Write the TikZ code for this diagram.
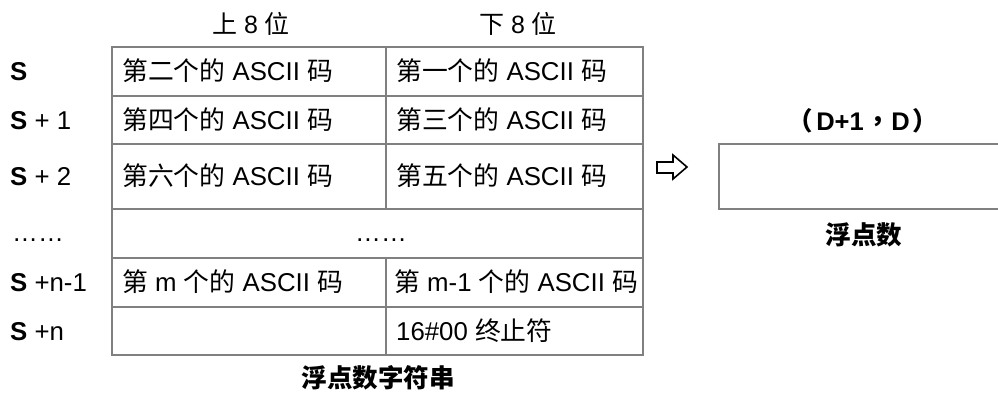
\documentclass[tikz,border=0pt]{standalone}
\usepackage{fontspec}
\setmainfont{Liberation Sans}
\newfontfamily\cjk{Noto Sans CJK SC}
\newfontfamily\cjktc{Noto Sans CJK TC}
\newcommand\zhtxt[1]{{\cjk #1}}
\definecolor{gridgray}{HTML}{808080}
\begin{document}
\begin{tikzpicture}[x=1pt,y=-1pt,
  gridline/.style={draw=gridgray, line width=2pt},
  txt/.style={inner sep=0pt, font=\fontsize{25.8}{30}\selectfont},
  lbl/.style={txt, anchor=base west},
  cell/.style={txt, anchor=base west},
  ctr/.style={txt, anchor=base},
  bold/.style={txt, anchor=base, font=\fontsize{25.5}{30}\selectfont\bfseries}]
\useasboundingbox (0,0) rectangle (998,393);

% table grid
\draw[gridline] (112,47) rectangle (643,355);
\foreach \yy in {96,144,209,258,307} \draw[gridline] (112,\yy) -- (643,\yy);
\draw[gridline] (386,47) -- (386,209);
\draw[gridline] (386,258) -- (386,355);

% headers
\node[ctr, font=\fontsize{25}{30}\selectfont] (hhi) at (251,34) {\zhtxt{上} 8 \zhtxt{位}};
\node[ctr, font=\fontsize{25}{30}\selectfont] (hlo) at (518,34) {\zhtxt{下} 8 \zhtxt{位}};

% left labels
\node[lbl] (l0) at (10,80.5) {\textbf{S}};
\node[lbl] (l1) at (10,129) {\textbf{S} + 1};
\node[lbl] (l2) at (10,185.5) {\textbf{S} + 2};
\node[lbl] (l3) at (12,241) {……};
\node[lbl] (l4) at (10,291.5) {\textbf{S} +n-1};
\node[lbl] (l5) at (10,340) {\textbf{S} +n};

% cells
\node[cell] (a0) at (122,80.5) {\zhtxt{第二个的} ASCII \zhtxt{码}};
\node[cell] (b0) at (396,80.5) {\zhtxt{第一个的} ASCII \zhtxt{码}};
\node[cell] (a1) at (122,129) {\zhtxt{第四个的} ASCII \zhtxt{码}};
\node[cell] (b1) at (396,129) {\zhtxt{第三个的} ASCII \zhtxt{码}};
\node[cell] (a2) at (122,185.5) {\zhtxt{第六个的} ASCII \zhtxt{码}};
\node[cell] (b2) at (396,185.5) {\zhtxt{第五个的} ASCII \zhtxt{码}};
\node[ctr] (mid) at (381,241) {……};
\node[cell] (a4) at (122,291.5) {\zhtxt{第} m \zhtxt{个的} ASCII \zhtxt{码}};
\node[cell] (b4) at (394,291.5) {\zhtxt{第} m-1 \zhtxt{个的} ASCII \zhtxt{码}};
\node[cell] (b5) at (396,340) {16\#00 \zhtxt{终止符}};

\node[bold] (cap1) at (378,387.5) {\zhtxt{浮点数字符串}};

% arrow
\draw[line width=1.6pt, line join=miter] (657,162) -- (673,162) -- (673,155) -- (687,167) -- (673,179) -- (673,173) -- (657,173) -- cycle;

% result box
\draw[gridline] (999,143.5) -- (719,143.5) -- (719,208.5) -- (999,208.5);
\node[bold] (dlab) at (863,131) {{\cjktc （}\kern3pt D+1\kern2pt{\cjktc ，}D\kern3pt{\cjktc ）}};
\node[bold] (cap2) at (864,244) {\zhtxt{浮点数}};
\end{tikzpicture}
\end{document}
